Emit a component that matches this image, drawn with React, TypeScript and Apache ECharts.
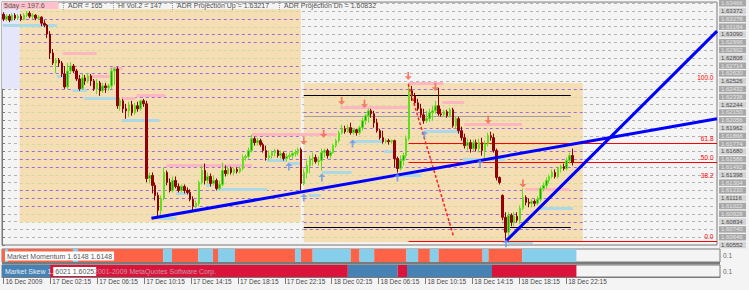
import { useEffect, useRef } from "react";
import * as echarts from "echarts";

const FONT = "'Liberation Sans', Arial, sans-serif";

// time axis: 15-minute slots, one label every 16 slots (4 hours)
const TIME_LABELS = ["16 Dec 2009", "17 Dec 02:15", "17 Dec 06:15", "17 Dec 10:15", "17 Dec 14:15", "17 Dec 18:15", "17 Dec 22:15", "18 Dec 02:15", "18 Dec 06:15", "18 Dec 10:15", "18 Dec 14:15", "18 Dec 18:15", "18 Dec 22:15"];
const SLOT_COUNT = 245;
const BARS_PER_LABEL = 16;

// GBPUSD M15 candles: [open, close, low, high]
const CANDLES: number[][] = [
  [1.63334,1.63274,1.63250,1.63358],[1.63274,1.63310,1.63250,1.63334],[1.63310,1.63262,1.63238,1.63334],[1.63262,1.63322,1.63250,1.63346],
  [1.63322,1.63286,1.63262,1.63346],[1.63286,1.63310,1.63262,1.63334],[1.63310,1.63274,1.63250,1.63334],[1.63274,1.63322,1.63262,1.63346],
  [1.63322,1.63346,1.63298,1.63370],[1.63346,1.63310,1.63286,1.63370],[1.63310,1.63322,1.63274,1.63346],[1.63322,1.63286,1.63262,1.63334],
  [1.63286,1.63298,1.63262,1.63322],[1.63298,1.63226,1.63190,1.63310],[1.63226,1.63202,1.63178,1.63262],[1.63202,1.63094,1.63046,1.63214],
  [1.63094,1.62866,1.62794,1.63130],[1.62866,1.62746,1.62722,1.62914],[1.62746,1.62782,1.62626,1.62806],[1.62782,1.62746,1.62698,1.62806],
  [1.62746,1.62614,1.62578,1.62770],[1.62614,1.62458,1.62434,1.62710],[1.62458,1.62650,1.62434,1.62746],[1.62650,1.62710,1.62626,1.62758],
  [1.62710,1.62650,1.62626,1.62734],[1.62650,1.62554,1.62530,1.62674],[1.62554,1.62434,1.62410,1.62602],[1.62434,1.62566,1.62422,1.62614],
  [1.62566,1.62530,1.62482,1.62602],[1.62530,1.62590,1.62506,1.62626],[1.62590,1.62530,1.62470,1.62614],[1.62530,1.62434,1.62410,1.62554],
  [1.62434,1.62506,1.62374,1.62554],[1.62506,1.62410,1.62350,1.62530],[1.62410,1.62470,1.62386,1.62506],[1.62470,1.62446,1.62386,1.62506],
  [1.62446,1.62470,1.62410,1.62494],[1.62470,1.62650,1.62434,1.62686],[1.62650,1.62674,1.62482,1.62698],[1.62674,1.62230,1.62194,1.62698],
  [1.62230,1.62290,1.62170,1.62326],[1.62290,1.62194,1.62146,1.62314],[1.62194,1.62170,1.62074,1.62254],[1.62170,1.62242,1.62098,1.62278],
  [1.62242,1.62146,1.62110,1.62290],[1.62146,1.62230,1.62122,1.62266],[1.62230,1.62194,1.62158,1.62278],[1.62194,1.62290,1.62170,1.62302],
  [1.62290,1.62254,1.62218,1.62314],[1.62254,1.61354,1.61306,1.62290],[1.61354,1.61390,1.61294,1.61426],[1.61390,1.61270,1.61174,1.61426],
  [1.61270,1.61150,1.61090,1.61306],[1.61150,1.60970,1.60874,1.61186],[1.60970,1.61114,1.60910,1.61150],[1.61114,1.61426,1.61090,1.61486],
  [1.61426,1.61306,1.61270,1.61450],[1.61306,1.61210,1.61186,1.61354],[1.61210,1.61330,1.61186,1.61378],[1.61330,1.61258,1.61234,1.61378],
  [1.61258,1.61210,1.61186,1.61294],[1.61210,1.61258,1.61186,1.61282],[1.61258,1.61210,1.61174,1.61282],[1.61210,1.61186,1.61162,1.61246],
  [1.61186,1.61102,1.61078,1.61222],[1.61102,1.61018,1.60970,1.61138],[1.61018,1.61054,1.60994,1.61090],[1.61054,1.61306,1.61018,1.61330],
  [1.61306,1.61450,1.61282,1.61510],[1.61450,1.61330,1.61282,1.61534],[1.61330,1.61378,1.61294,1.61426],[1.61378,1.61294,1.61258,1.61414],
  [1.61294,1.61330,1.61270,1.61390],[1.61330,1.61234,1.61210,1.61354],[1.61234,1.61282,1.61210,1.61330],[1.61282,1.61450,1.61258,1.61546],
  [1.61450,1.61414,1.61378,1.61510],[1.61414,1.61474,1.61390,1.61498],[1.61474,1.61426,1.61402,1.61498],[1.61426,1.61462,1.61390,1.61486],
  [1.61462,1.61438,1.61414,1.61486],[1.61438,1.61474,1.61414,1.61498],[1.61474,1.61606,1.61450,1.61642],[1.61606,1.61618,1.61570,1.61642],
  [1.61618,1.61690,1.61594,1.61726],[1.61690,1.61834,1.61666,1.61882],[1.61834,1.61786,1.61750,1.61858],[1.61786,1.61810,1.61750,1.61846],
  [1.61810,1.61762,1.61738,1.61834],[1.61762,1.61690,1.61666,1.61786],[1.61690,1.61606,1.61570,1.61750],[1.61606,1.61630,1.61570,1.61690],
  [1.61630,1.61666,1.61594,1.61690],[1.61666,1.61690,1.61618,1.61714],[1.61690,1.61630,1.61606,1.61702],[1.61630,1.61654,1.61594,1.61690],
  [1.61654,1.61594,1.61570,1.61678],[1.61594,1.61618,1.61558,1.61654],[1.61618,1.61630,1.61582,1.61666],[1.61630,1.61654,1.61594,1.61690],
  [1.61654,1.61666,1.61618,1.61702],[1.61666,1.61702,1.61630,1.61726],[1.61702,1.61294,1.61210,1.61726],[1.61294,1.61426,1.61270,1.61474],
  [1.61426,1.61510,1.61354,1.61570],[1.61510,1.61594,1.61414,1.61630],[1.61594,1.61606,1.61510,1.61666],[1.61606,1.61558,1.61534,1.61642],
  [1.61558,1.61570,1.61510,1.61618],[1.61570,1.61666,1.61450,1.61714],[1.61666,1.61690,1.61606,1.61714],[1.61690,1.61630,1.61594,1.61714],
  [1.61630,1.61666,1.61594,1.61690],[1.61666,1.61750,1.61654,1.61774],[1.61750,1.61810,1.61726,1.61834],[1.61810,1.61906,1.61786,1.61930],
  [1.61906,1.61954,1.61882,1.62002],[1.61954,1.61918,1.61894,1.61990],[1.61918,1.61966,1.61906,1.62002],[1.61966,1.61906,1.61882,1.62026],
  [1.61906,1.61942,1.61882,1.61966],[1.61942,1.61906,1.61870,1.61954],[1.61906,1.61966,1.61882,1.61990],[1.61966,1.62050,1.61930,1.62086],
  [1.62050,1.62110,1.62002,1.62134],[1.62110,1.62170,1.62026,1.62194],[1.62170,1.62134,1.62086,1.62194],[1.62134,1.62026,1.61966,1.62170],
  [1.62026,1.61930,1.61906,1.62074],[1.61930,1.61846,1.61822,1.61954],[1.61846,1.61798,1.61774,1.61930],[1.61798,1.61810,1.61774,1.61834],
  [1.61810,1.61798,1.61762,1.61834],[1.61798,1.61810,1.61774,1.61822],[1.61810,1.61594,1.61486,1.61822],[1.61594,1.61474,1.61426,1.61618],
  [1.61474,1.61570,1.61450,1.61630],[1.61570,1.61630,1.61510,1.61666],[1.61630,1.61834,1.61594,1.61870],[1.61834,1.62410,1.61810,1.62494],
  [1.62410,1.62350,1.62290,1.62470],[1.62350,1.62266,1.62230,1.62386],[1.62266,1.62194,1.62170,1.62314],[1.62194,1.62122,1.62086,1.62254],
  [1.62122,1.62050,1.62014,1.62194],[1.62050,1.62074,1.62026,1.62170],[1.62074,1.62146,1.62038,1.62194],[1.62146,1.62170,1.62050,1.62230],
  [1.62170,1.62230,1.62134,1.62290],[1.62230,1.62134,1.62110,1.62446],[1.62134,1.62122,1.62098,1.62194],[1.62122,1.62158,1.62098,1.62182],
  [1.62158,1.62110,1.62086,1.62182],[1.62110,1.62182,1.62086,1.62206],[1.62182,1.61990,1.61966,1.62206],[1.61990,1.62074,1.61954,1.62098],
  [1.62074,1.61930,1.61894,1.62098],[1.61930,1.61846,1.61810,1.61978],[1.61846,1.61750,1.61714,1.61894],[1.61750,1.61786,1.61690,1.61834],
  [1.61786,1.61714,1.61666,1.61822],[1.61714,1.61786,1.61690,1.61822],[1.61786,1.61714,1.61678,1.61822],[1.61714,1.61786,1.61666,1.61834],
  [1.61786,1.61690,1.61630,1.61846],[1.61690,1.61774,1.61594,1.61810],[1.61774,1.61870,1.61738,1.61906],[1.61870,1.61846,1.61810,1.61918],
  [1.61846,1.61690,1.61666,1.61894],[1.61690,1.61366,1.61330,1.61714],[1.61366,1.61306,1.61282,1.61378],[1.61150,1.60886,1.60850,1.61162],
  [1.60886,1.60706,1.60610,1.60946],[1.60706,1.60910,1.60658,1.60946],[1.60910,1.60826,1.60778,1.60934],[1.60826,1.60898,1.60778,1.60946],
  [1.60898,1.60850,1.60826,1.60946],[1.60850,1.60994,1.60802,1.61030],[1.60994,1.61126,1.60970,1.61234],[1.61126,1.61066,1.61030,1.61150],
  [1.61066,1.61054,1.61006,1.61114],[1.61054,1.61078,1.61006,1.61102],[1.61078,1.61054,1.61018,1.61102],[1.61054,1.61102,1.61030,1.61138],
  [1.61102,1.61234,1.61078,1.61258],[1.61234,1.61270,1.61198,1.61306],[1.61270,1.61330,1.61234,1.61366],[1.61330,1.61378,1.61294,1.61402],
  [1.61378,1.61426,1.61354,1.61462],[1.61426,1.61378,1.61354,1.61462],[1.61378,1.61474,1.61354,1.61498],[1.61474,1.61498,1.61426,1.61522],
  [1.61498,1.61474,1.61450,1.61534],[1.61474,1.61570,1.61450,1.61606],[1.61570,1.61630,1.61534,1.61666],[1.61630,1.61546,1.61510,1.61714],
];
const LAST_CLOSE = CANDLES[CANDLES.length - 1][1];

// price axis
const PRICE_MIN = 1.60552;
const PRICE_MAX = 1.6348;
const PRICE_STEP = 0.00094;

// shaded zones: [fromSlot, toSlot, lowPrice, highPrice]
const SESSION_ZONE = [0, 6.1, 1.62434, 1.6348];
const RANGE_ZONES = [
  [6.1, 102.4, 1.60826, 1.63394],
  [103.4, 199, 1.60586, 1.62506],
];
// grid steps drawn purple inside each zone
const PURPLE_STEPS = [
  [5, 6, 7, 10, 11, 12, 14, 15, 19, 20, 22, 23, 26, 27, 29],
  [2, 3, 4, 6, 7, 10, 11, 12, 15, 17, 20],
];
// [fromSlot, toSlot, price]
const BOX_LINES = [[103.4, 194.9, 1.62362], [103.4, 194.9, 1.60766]];
const MID_LINES = [[103.4, 194.9, 1.6211]];
const RESISTANCE = [
  [20.8, 32.4, 1.62866], [30.0, 36.9, 1.6259], [36.9, 41.3, 1.62686], [41.3, 45.7, 1.62326],
  [46.1, 56.0, 1.62362], [56.3, 85.7, 1.61522], [85.7, 114.7, 1.61894], [116.0, 139.2, 1.62218],
  [139.2, 151.2, 1.62506], [150.9, 158.4, 1.62278], [158.4, 178.2, 1.62014], [179.2, 194.5, 1.61222],
];
const SUPPORT = [
  [0.3, 18.8, 1.63202], [18.8, 23.2, 1.6259], [24.2, 29.0, 1.62422], [28.3, 40.3, 1.62326],
  [41.0, 53.9, 1.62062], [53.9, 59.7, 1.60874], [59.7, 64.2, 1.61174], [70.0, 72.0, 1.6127],
  [73.4, 90.8, 1.61222], [90.8, 97.3, 1.61582], [98.3, 102.7, 1.61546], [105.1, 109.2, 1.6115],
  [109.6, 119.8, 1.61426], [119.8, 130.7, 1.6181], [130.7, 134.8, 1.6169], [135.8, 143.7, 1.6139],
  [145.0, 158.0, 1.6193], [158.0, 172.4, 1.61594], [173.4, 181.9, 1.60586], [183.6, 195.6, 1.60994],
];
// [fromSlot, fromPrice, toSlot, toPrice]
const TRENDLINES = [[51.2, 1.60874, 245, 1.62074], [172.7, 1.60598, 245, 1.6313]];
const PROJECTION = [[139.2, 1.62494], [154.6, 1.6067]];
// Fibonacci retracement
const FIB_ZERO = 1.60598;
const FIB_HUNDRED = 1.62518;
const FIB_FROM_SLOT = 139.3;
const FIB_LEVELS = [0, 38.2, 50, 61.8, 100];
const FIB_DRAWN = [0, 50, 61.8];
// signal arrows [slot, price]
const SELL_SIGNALS = [[103.4, 1.6181], [110.2, 1.61894], [116.4, 1.6229], [124.2, 1.62254], [139.2, 1.6259], [148.5, 1.62458], [166.6, 1.62062], [178.5, 1.61294]];
const BUY_SIGNALS = [[98.3, 1.61498], [103.4, 1.61126], [109.6, 1.61366], [120.1, 1.61774], [135.5, 1.61366], [144.7, 1.61882], [163.8, 1.61534], [172.7, 1.60574]];
// indicator panels [fromSlot, toSlot, state]
const MOMENTUM_SEGMENTS: [number, number, string][] = [
  [0, 55, "down"], [1, 2, "up"], [24.2, 26, "up"], [55, 58, "up"], [58, 67, "down"], [67, 72, "up"], [72, 73.7, "down"],
  [73.7, 79.5, "up"], [79.5, 100, "down"], [100, 102, "up"], [102, 106, "down"], [106, 119, "up"], [119, 122, "down"],
  [122, 127, "up"], [127, 138, "down"], [138, 142, "up"], [142, 146, "down"], [146, 149, "up"], [149, 164, "down"],
  [164, 166, "up"], [166, 177.5, "down"], [177.5, 196, "up"],
];
const SKEW_SEGMENTS: [number, number, string][] = [
  [0, 16.4, "up"], [16.4, 118, "down"], [118, 135, "up"], [135, 138.2, "down"], [138.2, 167.2, "up"], [167.2, 196, "down"],
];
const HEADER = [
  { x: 3, text: "5day = 197.6", bg: "#ffc0cb" },
  { x: 67, text: "ADR = 165", bg: "" },
  { x: 117, text: "Hi Vol.2 = 147", bg: "" },
  { x: 176, text: "ADR Projection Up = 1.63217", bg: "" },
  { x: 283, text: "ADR Projection Dn = 1.60832", bg: "" },
];
const HEADER_SEPARATORS = [63, 113, 172, 279];

const hSeg = (data: number[][], color: string, width: number, dash: any, z: number) => ({
  type: "custom", xAxisIndex: 1, yAxisIndex: 0, z, silent: true, clip: true,
  encode: { x: [0, 1], y: 2 },
  data,
  renderItem: (_p: any, api: any) => {
    const a = api.coord([api.value(0), api.value(2)]);
    const b = api.coord([api.value(1), api.value(2)]);
    const y = width % 2 === 1 ? Math.round(a[1]) + 0.5 : Math.round(a[1]);
    return { type: "line", shape: { x1: a[0], y1: y, x2: b[0], y2: y }, style: { stroke: color, lineWidth: width, lineDash: dash } };
  },
});

const panelSeries = (segs: [number, number, string][], xi: number, yi: number, colors: any) => ({
  type: "custom", xAxisIndex: xi, yAxisIndex: yi, silent: true, clip: true,
  encode: { x: [0, 1] },
  data: segs.map((s) => ({ value: [s[0], s[1]], itemStyle: { color: colors[s[2]] } })),
  renderItem: (_p: any, api: any) => {
    const a = api.coord([api.value(0), 1]);
    const b = api.coord([api.value(1), 0]);
    return { type: "rect", shape: { x: a[0], y: a[1], width: b[0] - a[0], height: b[1] - a[1] }, style: { fill: api.visual("color") } };
  },
});

function buildOption() {
  const slots = Array.from({ length: SLOT_COUNT }, (_, i) => String(i));
  const isLabelSlot = (i: number) => i % BARS_PER_LABEL === 0 && i / BARS_PER_LABEL < TIME_LABELS.length;
  const level = (k: number) => +(PRICE_MIN + k * PRICE_STEP).toFixed(5);
  const purple: number[][] = [];
  const pale: number[][] = [];
  RANGE_ZONES.forEach((z, zi) => {
    const kFrom = Math.ceil((z[2] - PRICE_MIN) / PRICE_STEP - 1e-6);
    const kTo = Math.floor((z[3] - PRICE_MIN) / PRICE_STEP + 1e-6);
    for (let k = kFrom; k <= kTo; k++) (PURPLE_STEPS[zi].includes(k) ? purple : pale).push([z[0], z[1], level(k)]);
  });
  const fibPrice = (l: number) => FIB_ZERO + ((FIB_HUNDRED - FIB_ZERO) * l) / 100;

  const zones = [
    { value: SESSION_ZONE, itemStyle: { color: "#e6e6fa" } },
    ...RANGE_ZONES.map((z) => ({ value: z, itemStyle: { color: "#f5deb3" } })),
  ];

  const hiddenVal = (gridIndex: number) => ({ type: "value", gridIndex, min: 0, max: SLOT_COUNT, show: false });
  const labelStyle = { fontSize: 6, lineHeight: 6.5, height: 6.5, width: 24, padding: [0, 1, 0, 2], fontFamily: FONT };

  return {
    animation: false,
    backgroundColor: "#f4f4f4",
    textStyle: { fontFamily: FONT },
    grid: [
      { left: 2, top: 1, width: 718, height: 244, show: true, borderColor: "#7a7a7a", borderWidth: 1, backgroundColor: "transparent" },
      { left: 2, top: 249, width: 718, height: 13, show: true, borderColor: "#7a7a7a", borderWidth: 1, backgroundColor: "transparent" },
      { left: 2, top: 265, width: 718, height: 12, show: true, borderColor: "#7a7a7a", borderWidth: 1, backgroundColor: "transparent" },
    ],
    xAxis: [
      { type: "category", gridIndex: 0, data: slots, boundaryGap: true, show: false },
      hiddenVal(0),
      hiddenVal(1),
      hiddenVal(2),
      {
        type: "category", gridIndex: 2, data: slots, boundaryGap: true, position: "bottom",
        axisLine: { show: true, lineStyle: { color: "#7a7a7a" } },
        axisTick: { show: true, alignWithLabel: true, length: 7, interval: (i: number) => isLabelSlot(i), lineStyle: { color: "#7a7a7a" } },
        axisLabel: {
          interval: (i: number) => isLabelSlot(i),
          formatter: (_v: string, i: number) => TIME_LABELS[i / BARS_PER_LABEL] ?? "",
          align: "left", margin: 1, padding: [0, 0, 0, 2], fontSize: 6.5, color: "#4a4a4a", fontFamily: FONT,
        },
        splitLine: { show: false },
      },
    ],
    yAxis: [
      {
        type: "value", gridIndex: 0, position: "right", min: PRICE_MIN, max: PRICE_MAX, interval: PRICE_STEP,
        axisLine: { show: true, lineStyle: { color: "#7a7a7a" } },
        axisTick: { show: true, length: 3, lineStyle: { color: "#7a7a7a" } },
        splitLine: { show: true, lineStyle: { color: "#b2b2b2", type: [3, 3], width: 1 } },
        axisLabel: {
          margin: 2, showMaxLabel: false,
          formatter: (v: number, i: number) => (i % 3 === 0 ? `{a|${v.toFixed(5)}}` : `{b|${v.toFixed(5)}}`),
          rich: {
            a: { ...labelStyle, color: "#4a4a4a", backgroundColor: "#d3d3d3" },
            b: { ...labelStyle, color: "#e4e4e4", backgroundColor: "#a8a8a8" },
          },
        },
      },
      { type: "value", gridIndex: 1, min: 0, max: 1, show: false },
      { type: "value", gridIndex: 2, min: 0, max: 1, show: false },
    ],
    graphic: [
      ...HEADER.map((h) => ({
        type: "text", x: h.x, y: 5.5, z: 50,
        style: { text: h.text, font: `7px ${FONT}`, fill: "#555", verticalAlign: "middle", align: "left", backgroundColor: h.bg || undefined, padding: h.bg ? [0, 14, 0, 1] : [0, 1] },
      })),
      ...HEADER_SEPARATORS.map((x) => ({ type: "line", z: 50, shape: { x1: x + 0.5, y1: 1, x2: x + 0.5, y2: 10 }, style: { stroke: "#9a9a9a", lineWidth: 1, lineDash: [1, 1] } })),
      { type: "rect", z: 50, shape: { x: 2, y: 262, width: 718, height: 2.5 }, style: { fill: "#7a7a7a" } },
      { type: "text", x: 5, y: 256, z: 50, style: { text: "Market Momentum 1.6148 1.6148", font: `7px ${FONT}`, fill: "#555", backgroundColor: "#ffffff", verticalAlign: "middle", padding: [1, 2] } },
      {
        type: "text", x: 5, y: 271.5, z: 50,
        style: {
          text: "{w|Market Skew 1.}{k|6021 1.6025}", verticalAlign: "middle",
          rich: {
            w: { font: `7px ${FONT}`, fill: "#e8eef6" },
            k: { font: `7px ${FONT}`, fill: "#555", backgroundColor: "#ffffff", padding: [1, 2] },
          },
        },
      },
      { type: "text", x: 94, y: 271.5, z: 50, style: { text: "2001-2009 MetaQuotes Software Corp.", font: `7px ${FONT}`, fill: "#c99aa6", verticalAlign: "middle" } },
      { type: "text", x: 723, y: 255, z: 50, style: { text: "0.1", font: `6.5px ${FONT}`, fill: "#666", verticalAlign: "middle" } },
      { type: "text", x: 723, y: 271, z: 50, style: { text: "0.1", font: `6.5px ${FONT}`, fill: "#666", verticalAlign: "middle" } },
    ],
    series: [
      {
        type: "custom", xAxisIndex: 1, yAxisIndex: 0, z: 1, silent: true, clip: true,
        encode: { x: [0, 1], y: [2, 3] },
        data: zones,
        renderItem: (_p: any, api: any) => {
          const a = api.coord([api.value(0), api.value(3)]);
          const b = api.coord([api.value(1), api.value(2)]);
          return { type: "rect", shape: { x: a[0], y: a[1], width: b[0] - a[0], height: b[1] - a[1] }, style: { fill: api.visual("color") } };
        },
      },
      hSeg(pale, "#cadc98", 1, [3, 3], 2),
      hSeg(purple, "#9370db", 1, [3, 3], 2),
      hSeg(MID_LINES, "#a0a0a0", 1, null, 2),
      hSeg(BOX_LINES, "#000000", 1, null, 2),
      hSeg(RESISTANCE, "#ffb6c1", 3, null, 3),
      hSeg(SUPPORT, "#add8e6", 3, null, 3),
      hSeg(FIB_DRAWN.map((l) => [FIB_FROM_SLOT, SLOT_COUNT, +fibPrice(l).toFixed(5)]), "#ff0000", 1, null, 3),
      {
        type: "candlestick", xAxisIndex: 0, yAxisIndex: 0, z: 4, data: CANDLES, barWidth: 2,
        itemStyle: { color: "#1f9f1f", color0: "#a00000", borderColor: "#5ee01a", borderColor0: "#8b0000", borderWidth: 1 },
        markLine: {
          silent: true, symbol: "none", lineStyle: { opacity: 0 },
          label: { position: "end", distance: 1, formatter: LAST_CLOSE.toFixed(5), color: "#ffffff", backgroundColor: "#5c5c5c", padding: [1, 2], fontSize: 6.5, fontFamily: FONT },
          data: [{ yAxis: LAST_CLOSE }],
        },
      },
      {
        type: "line", xAxisIndex: 1, yAxisIndex: 0, z: 5, data: PROJECTION, symbol: "none", silent: true,
        lineStyle: { color: "#ff2020", width: 1.5, type: [3, 2] },
      },
      ...TRENDLINES.map((t) => ({
        type: "line", xAxisIndex: 1, yAxisIndex: 0, z: 5, symbol: "none", silent: true,
        data: [[t[0], t[1]], [t[2], t[3]]],
        lineStyle: { color: "#0000ff", width: 3 },
      })),
      {
        type: "scatter", xAxisIndex: 1, yAxisIndex: 0, z: 6, silent: true, data: SELL_SIGNALS,
        symbol: "path://M3,0L5,0L5,5L8,5L4,9L0,5L3,5Z", symbolSize: [7, 8], itemStyle: { color: "#f4624a" },
      },
      {
        type: "scatter", xAxisIndex: 1, yAxisIndex: 0, z: 6, silent: true, data: BUY_SIGNALS,
        symbol: "path://M4,0L8,4L5,4L5,9L3,9L3,4L0,4Z", symbolSize: [7, 8], itemStyle: { color: "#6495ed" },
      },
      {
        type: "custom", xAxisIndex: 1, yAxisIndex: 0, z: 6, silent: true, clip: false,
        encode: { x: 0, y: 1 },
        data: FIB_LEVELS.map((l) => [243.8, +fibPrice(l).toFixed(5), l]),
        renderItem: (_p: any, api: any) => {
          const c = api.coord([api.value(0), api.value(1)]);
          return { type: "text", x: c[0], y: c[1] - 1, style: { text: Number(api.value(2)).toFixed(1), fill: "#ff0000", font: `6.5px ${FONT}`, align: "right", verticalAlign: "bottom" } };
        },
      },
      panelSeries(MOMENTUM_SEGMENTS, 2, 1, { up: "#87ceeb", down: "#ff6347" }),
      panelSeries(SKEW_SEGMENTS, 3, 2, { up: "#4682b4", down: "#dc143c" }),
    ],
  };
}

export default function App() {
  const ref = useRef<HTMLDivElement>(null);
  useEffect(() => {
    const chart = echarts.init(ref.current!, null, { renderer: "svg" });
    chart.setOption(buildOption() as any);
    return () => chart.dispose();
  }, []);
  return <div ref={ref} style={{ position: "fixed", left: 0, top: 0, width: 749, height: 290 }} />;
}
